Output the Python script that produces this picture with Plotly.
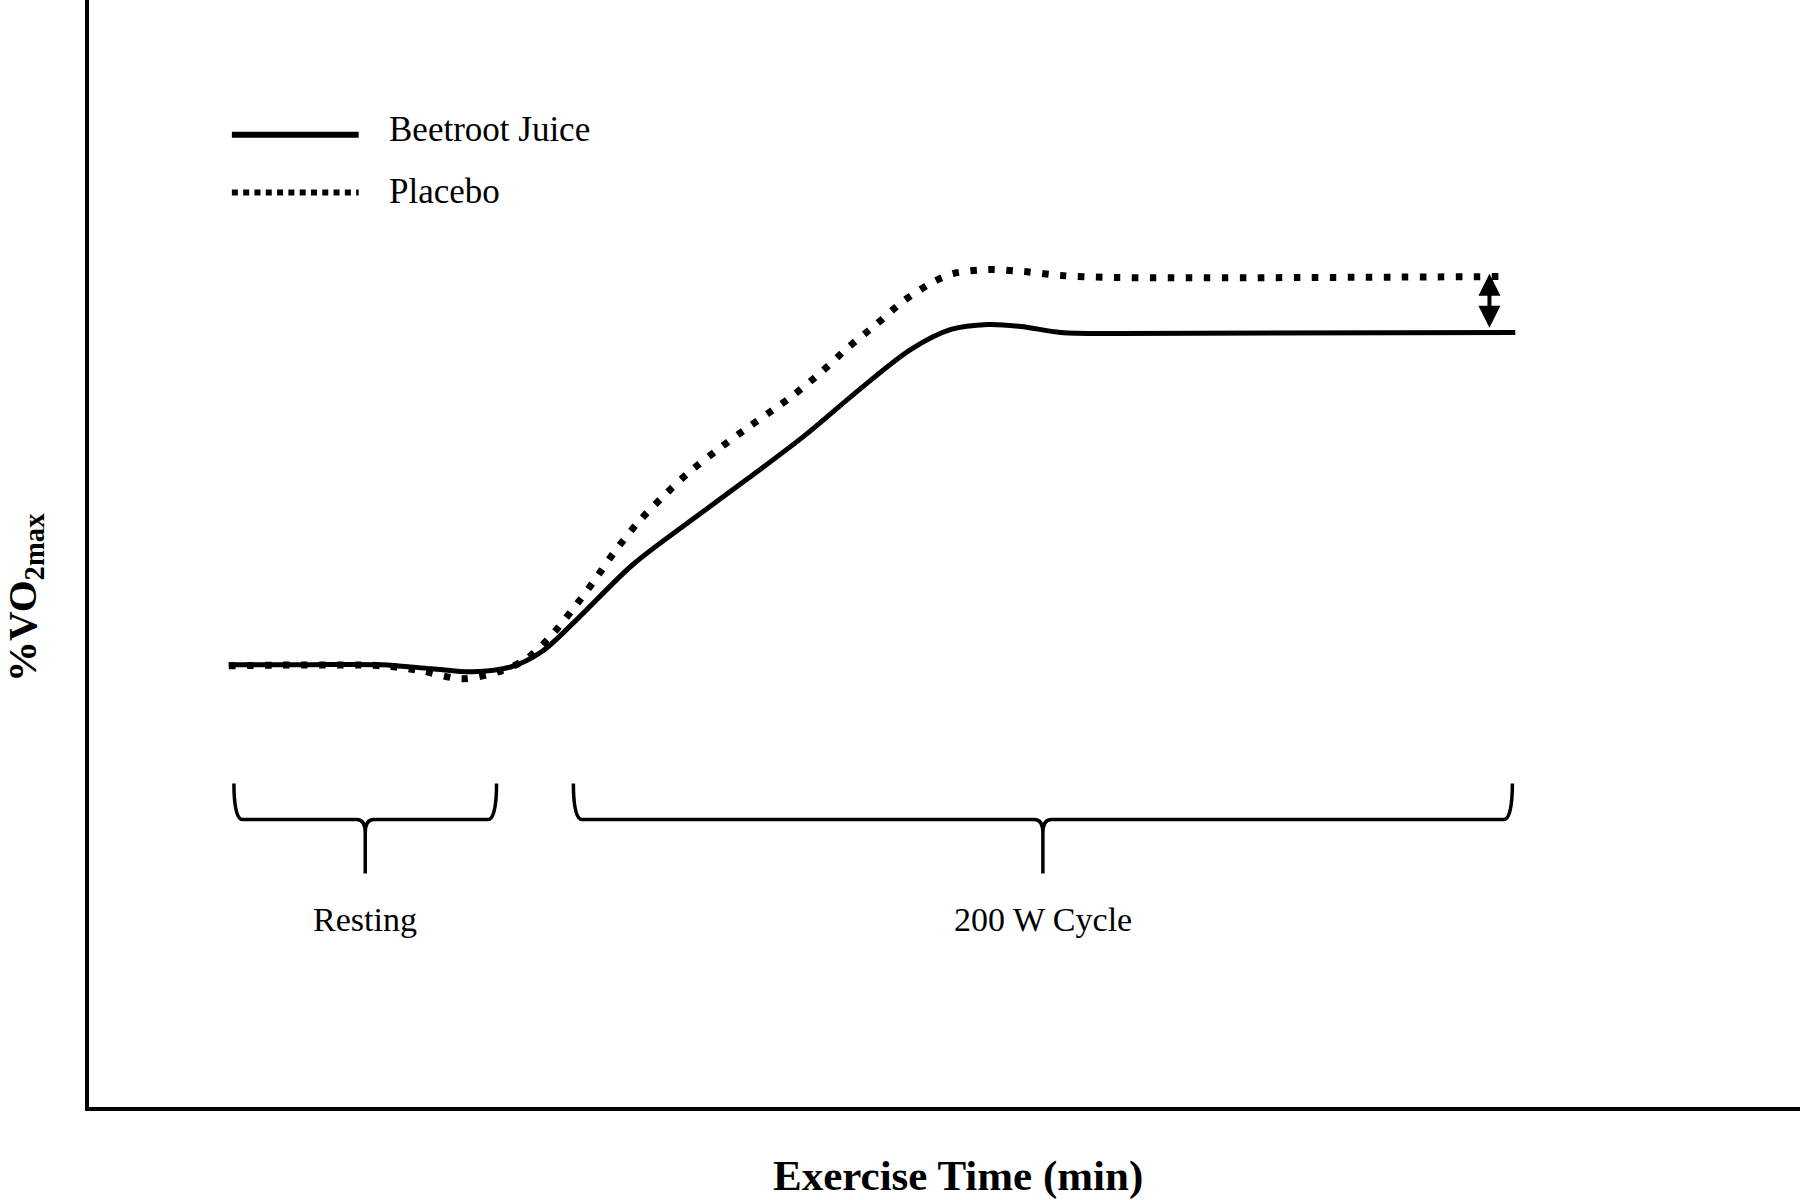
import plotly.graph_objects as go

# ---- data (arbitrary units: time 0-100, %VO2max 0-100) ----
time_bj = [8.17, 12.43, 17.10, 20.02, 22.42, 24.69, 26.45, 28.43, 31.76, 35.14, 38.47,
           41.86, 45.18, 48.04, 50.38, 52.54, 54.47, 56.80, 60.30, 83.36]
vo2_bj = [39.95, 39.95, 39.95, 39.59, 39.31, 39.77, 41.12, 43.91, 48.96, 52.93, 56.72,
          60.69, 65.01, 68.44, 70.24, 70.69, 70.51, 69.97, 69.88, 69.97]

time_pl = [8.17, 17.10, 19.44, 21.77, 24.11, 25.57, 26.85, 28.20, 29.48, 30.71, 32.11,
           33.57, 35.08, 36.78, 38.53, 40.28, 41.16, 42.79, 44.37, 46.00, 47.64, 49.39,
           50.50, 52.54, 54.64, 56.80, 60.13, 82.72]
vo2_pl = [39.86, 39.86, 39.40, 38.68, 39.40, 40.49, 42.29, 44.81, 47.43, 50.14, 52.84,
          55.18, 57.35, 59.42, 61.41, 63.30, 64.29, 66.37, 68.62, 70.69, 72.86, 74.57,
          75.29, 75.65, 75.47, 75.11, 74.93, 75.02]

series_names = ["Beetroot Juice", "Placebo"]
phase_names = ["Resting", "200 W Cycle"]
phase_start = [8.47, 28.31]
phase_end = [23.82, 83.19]

FONT = "Liberation Serif"
DOTS = "6.5px,11.5px"
LEG_DOTS = "6px,5.3px"

fig = go.Figure()
fig.add_trace(go.Scatter(x=time_bj, y=vo2_bj, mode="lines", name=series_names[0],
                         line=dict(color="black", width=5, shape="spline", smoothing=0.9),
                         showlegend=False, hoverinfo="skip"))
fig.add_trace(go.Scatter(x=time_pl, y=vo2_pl, mode="lines", name=series_names[1],
                         line=dict(color="black", width=7, shape="spline", smoothing=0.8,
                                   dash=DOTS),
                         showlegend=False, hoverinfo="skip"))

shapes = []
annotations = []

# legend (manual, long samples)
leg_x0, leg_x1, leg_tx = 8.35, 15.76, 17.4
leg_y = [87.83, 82.60]
leg_ty = [88.3, 82.7]
shapes.append(dict(type="line", xref="x", yref="y", x0=leg_x0, x1=leg_x1, y0=leg_y[0], y1=leg_y[0],
                   line=dict(color="black", width=6)))
shapes.append(dict(type="line", xref="x", yref="y", x0=leg_x0, x1=leg_x1, y0=leg_y[1], y1=leg_y[1],
                   line=dict(color="black", width=6, dash=LEG_DOTS)))
for name, yy in zip(series_names, leg_ty):
    annotations.append(dict(x=leg_tx, y=yy, xref="x", yref="y", text=name, showarrow=False,
                            xanchor="left", yanchor="middle",
                            font=dict(family=FONT, size=35, color="black")))

# braces for phases
y_top, y_bar, y_tip, y_txt = 29.22, 25.97, 21.10, 16.95
for name, a, b in zip(phase_names, phase_start, phase_end):
    c = (a + b) / 2
    r = 0.5
    path = (f"M {a},{y_top} C {a},{y_top-1.5} {a+0.1},{y_bar} {a+r},{y_bar} "
            f"L {c-r},{y_bar} Q {c},{y_bar} {c},{y_bar-1.2} L {c},{y_tip} "
            f"M {c},{y_bar-1.2} Q {c},{y_bar} {c+r},{y_bar} L {b-r},{y_bar} "
            f"C {b-0.1},{y_bar} {b},{y_top-1.5} {b},{y_top}")
    shapes.append(dict(type="path", xref="x", yref="y", path=path,
                       line=dict(color="black", width=3.5)))
    annotations.append(dict(x=c, y=y_txt, xref="x", yref="y", text=name, showarrow=False,
                            xanchor="center", yanchor="middle",
                            font=dict(family=FONT, size=34, color="black")))

# double-headed arrow showing difference
arr_x = 81.85
annotations.append(dict(x=arr_x, y=70.4, ax=arr_x, ay=75.4, xref="x", yref="y",
                        axref="x", ayref="y", text="", showarrow=True,
                        arrowhead=2, startarrowhead=2, arrowside="end+start",
                        arrowsize=1.1, startarrowsize=1.1, arrowwidth=4, arrowcolor="black"))

# axis titles
annotations.append(dict(x=0.508, y=-0.0625, xref="paper", yref="paper",
                        text="<b>Exercise Time (min)</b>", showarrow=False,
                        xanchor="center", yanchor="middle",
                        font=dict(family=FONT, size=43, color="black")))
annotations.append(dict(x=-0.0378, y=0.46, xref="paper", yref="paper",
                        text="<b>%VO<sub>2max</sub></b>", showarrow=False, textangle=-90,
                        xanchor="center", yanchor="middle",
                        font=dict(family=FONT, size=41, color="black")))

fig.update_layout(
    width=1800, height=1200,
    margin=dict(l=89, r=0, t=0, b=93),
    paper_bgcolor="white", plot_bgcolor="white",
    shapes=shapes, annotations=annotations,
    showlegend=False,
    xaxis=dict(range=[0, 100], showline=True, linecolor="black", linewidth=3.5,
               showgrid=False, zeroline=False, showticklabels=False, ticks=""),
    yaxis=dict(range=[0, 100], showline=True, linecolor="black", linewidth=3.5,
               showgrid=False, zeroline=False, showticklabels=False, ticks=""),
)

fig.write_html("out.html", config={"displayModeBar": False},
               post_script="document.body.style.margin='0';")
